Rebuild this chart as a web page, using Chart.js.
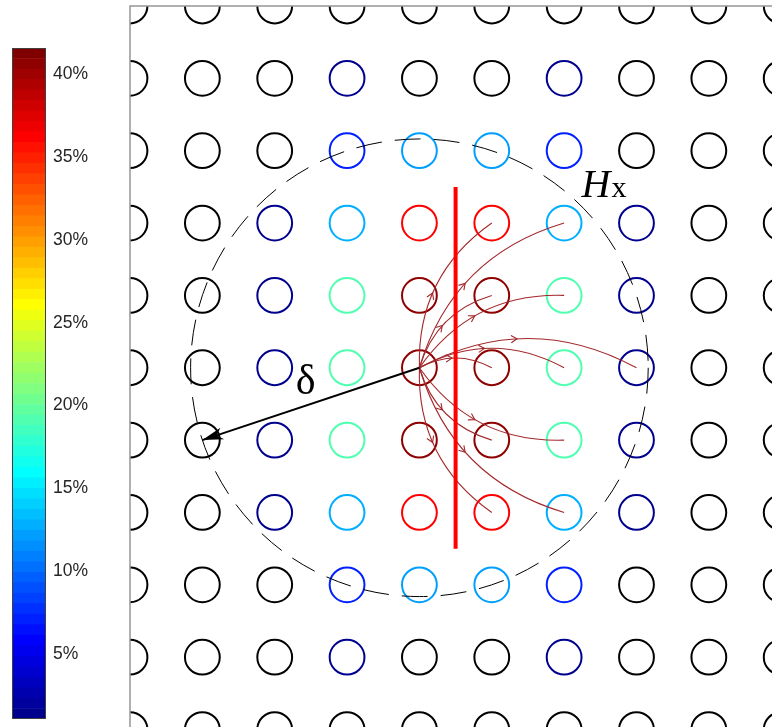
<!DOCTYPE html>
<html>
<head>
<meta charset="utf-8">
<script src="https://cdn.jsdelivr.net/npm/chart.js@4/dist/chart.umd.min.js"></script>
<style>
  html, body { margin: 0; padding: 0; background: #fff; overflow: hidden; }
  #wrap { position: relative; width: 772px; height: 727px; }
  canvas { position: absolute; left: 0; top: 0; }
</style>
</head>
<body>
<div id="wrap">
  <canvas id="lattice" width="772" height="727"></canvas>
  <canvas id="cbar" width="130" height="727"></canvas>
</div>
<script>
// share of flow per lattice site (%), null = site outside the radius (black)
const rowOuter = [null, null, null, null, null, null, null, null, null, null];
const rowNear1 = [null, null, null, 1.5, null, null, 1.5, null, null, null];
const rowNear2 = [null, null, null, 7.2, 12.2, 12.2, 7.2, null, null, null];
const rowNear3 = [null, null, 1.5, 12.8, 36.2, 36.2, 12.8, 1.5, null, null];
const rowCore = [null, null, 1.5, 19.3, 40.6, 40.6, 19.3, 1.5, null, null];
const latticeRows = [rowOuter, rowNear1, rowNear2, rowNear3, rowCore, rowCore,
  rowCore, rowNear3, rowNear2, rowNear1, rowOuter];

// source site, flow targets, interface and delta marker (lattice units)
const sourceSite = { x: 4, y: 5 };
const flowTargets = [
  { x: 5, y: 3 }, { x: 6, y: 3 }, { x: 5, y: 4 }, { x: 6, y: 4 },
  { x: 5, y: 5 }, { x: 6, y: 5 }, { x: 7, y: 5 },
  { x: 5, y: 6 }, { x: 6, y: 6 }, { x: 5, y: 7 }, { x: 6, y: 7 }
];
const interfaceX = 4.5;
const interfaceY = [2.5, 7.5];
const deltaEnd = { x: 1, y: 6 };
const deltaLabel = { x: 2.29, y: 5.36 };
const hxLabel = { x: 6.24, y: 2.64 };

// colour bar
const cbMin = 1.06;
const cbMax = 41.6;
const cbLevels = 64;
const cbTicks = [5, 10, 15, 20, 25, 30, 35, 40];

// matlab jet(m)
function jet(m) {
  const n = Math.ceil(m / 4);
  const u = [];
  for (let i = 1; i <= n; i++) u.push(i / n);
  for (let i = 1; i < n; i++) u.push(1);
  for (let i = n; i >= 1; i--) u.push(i / n);
  const g0 = Math.ceil(n / 2) - (m % 4 === 1 ? 1 : 0);
  const J = Array.from({ length: m }, () => [0, 0, 0]);
  u.forEach((v, i) => {
    const g = g0 + i + 1, r = g + n, b = g - n;
    if (r >= 1 && r <= m) J[r - 1][0] = v;
    if (g >= 1 && g <= m) J[g - 1][1] = v;
    if (b >= 1 && b <= m) J[b - 1][2] = v;
  });
  return J.map(c => `rgb(${Math.round(c[0] * 255)},${Math.round(c[1] * 255)},${Math.round(c[2] * 255)})`);
}
const jetMap = jet(cbLevels);

function colorFor(v) {
  if (v === null) return '#000000';
  let k = Math.floor((v - cbMin) / (cbMax - cbMin) * cbLevels);
  k = Math.max(0, Math.min(cbLevels - 1, k));
  return jetMap[k];
}

const sitePoints = [];
const siteColors = [];
latticeRows.forEach((row, j) => {
  row.forEach((v, i) => {
    sitePoints.push({ x: i, y: j });
    siteColors.push(colorFor(v));
  });
});

const flowPlugin = {
  id: 'flows',
  afterDatasetDraw(chart, args) {
    if (args.index !== 0) return;
    const { ctx, scales: { x, y } } = chart;
    const sx = x.getPixelForValue(sourceSite.x), sy = y.getPixelForValue(sourceSite.y);
    ctx.save();
    ctx.strokeStyle = '#a3282b';
    ctx.lineWidth = 1.1;
    flowTargets.forEach(t => {
      const ex = x.getPixelForValue(t.x), ey = y.getPixelForValue(t.y);
      const dx = ex - sx, dy = ey - sy, L = Math.hypot(dx, dy);
      let nx = dy / L, ny = -dx / L;
      if (dy > 0) { nx = -nx; ny = -ny; }
      const k = 0.27 * L;
      const cx = (sx + ex) / 2 + nx * k, cy = (sy + ey) / 2 + ny * k;
      ctx.beginPath();
      ctx.moveTo(sx, sy);
      ctx.quadraticCurveTo(cx, cy, ex, ey);
      ctx.stroke();
      const s = 0.45;
      const px = (1 - s) * (1 - s) * sx + 2 * (1 - s) * s * cx + s * s * ex;
      const py = (1 - s) * (1 - s) * sy + 2 * (1 - s) * s * cy + s * s * ey;
      const tx = 2 * (1 - s) * (cx - sx) + 2 * s * (ex - cx);
      const ty = 2 * (1 - s) * (cy - sy) + 2 * s * (ey - cy);
      const a = Math.atan2(ty, tx);
      ctx.beginPath();
      ctx.moveTo(px + 7 * Math.cos(a + 2.6), py + 7 * Math.sin(a + 2.6));
      ctx.lineTo(px, py);
      ctx.lineTo(px + 7 * Math.cos(a - 2.6), py + 7 * Math.sin(a - 2.6));
      ctx.stroke();
    });
    // dashed radius circle
    const r = Math.hypot(x.getPixelForValue(deltaEnd.x) - sx, y.getPixelForValue(deltaEnd.y) - sy);
    ctx.strokeStyle = '#000';
    ctx.lineWidth = 1;
    ctx.setLineDash([26, 13]);
    ctx.beginPath();
    ctx.arc(sx, sy, r, 0, Math.PI * 2);
    ctx.stroke();
    ctx.restore();
  },
  afterDatasetsDraw(chart) {
    const { ctx, chartArea, scales: { x, y } } = chart;
    ctx.save();
    // delta arrow head
    const sx = x.getPixelForValue(sourceSite.x), sy = y.getPixelForValue(sourceSite.y);
    const ex = x.getPixelForValue(deltaEnd.x), ey = y.getPixelForValue(deltaEnd.y);
    const a = Math.atan2(ey - sy, ex - sx);
    const c = Math.cos(a), s = Math.sin(a);
    ctx.fillStyle = '#000';
    ctx.beginPath();
    ctx.moveTo(ex, ey);
    ctx.lineTo(ex - 21 * c + 6 * s, ey - 21 * s - 6 * c);
    ctx.lineTo(ex - 15 * c, ey - 15 * s);
    ctx.lineTo(ex - 21 * c - 6 * s, ey - 21 * s + 6 * c);
    ctx.closePath();
    ctx.fill();
    // labels
    ctx.fillStyle = '#000';
    ctx.textBaseline = 'alphabetic';
    ctx.font = '42px "Liberation Serif"';
    ctx.fillText('δ', x.getPixelForValue(deltaLabel.x), y.getPixelForValue(deltaLabel.y));
    const hx = x.getPixelForValue(hxLabel.x), hy = y.getPixelForValue(hxLabel.y);
    ctx.font = 'italic 40px "Liberation Serif"';
    ctx.fillText('H', hx, hy);
    const w = ctx.measureText('H').width;
    ctx.font = '30px "Liberation Serif"';
    ctx.fillText('x', hx + w + 1, hy);
    // axes box (left and top visible)
    ctx.strokeStyle = '#969696';
    ctx.lineWidth = 1.5;
    ctx.beginPath();
    ctx.moveTo(chartArea.left, chartArea.bottom);
    ctx.lineTo(chartArea.left, chartArea.top);
    ctx.lineTo(chartArea.right, chartArea.top);
    ctx.stroke();
    ctx.restore();
  }
};

new Chart(document.getElementById('lattice'), {
  type: 'scatter',
  data: {
    datasets: [
      {
        data: sitePoints,
        pointRadius: 17.4,
        pointHoverRadius: 17.4,
        pointBorderWidth: 2,
        pointBorderColor: siteColors,
        pointBackgroundColor: 'rgba(0,0,0,0)',
        showLine: false,
        clip: 0,
        order: 3
      },
      {
        type: 'line',
        data: [{ x: interfaceX, y: interfaceY[0] }, { x: interfaceX, y: interfaceY[1] }],
        borderColor: '#ff0000',
        borderWidth: 4,
        pointRadius: 0,
        order: 1
      },
      {
        type: 'line',
        data: [sourceSite, deltaEnd],
        borderColor: '#000000',
        borderWidth: 2,
        pointRadius: 0,
        order: 2
      }
    ]
  },
  options: {
    responsive: false,
    animation: false,
    devicePixelRatio: 1,
    events: [],
    layout: { autoPadding: false, padding: { left: 130, top: 6, right: 0, bottom: 0 } },
    scales: {
      x: { type: 'linear', min: 0, max: 8.873, display: false },
      y: { type: 'linear', min: 0, max: 9.965, reverse: true, display: false }
    },
    plugins: { legend: { display: false }, tooltip: { enabled: false } }
  },
  plugins: [flowPlugin]
});

// colour bar
const cbBox = {
  id: 'cbBox',
  afterDraw(chart) {
    const { ctx, chartArea } = chart;
    ctx.save();
    ctx.strokeStyle = '#404040';
    ctx.lineWidth = 1;
    ctx.strokeRect(chartArea.left + 0.5, chartArea.top + 0.5,
      chartArea.right - chartArea.left - 1, chartArea.bottom - chartArea.top - 1);
    ctx.restore();
  }
};

new Chart(document.getElementById('cbar'), {
  type: 'bar',
  data: {
    labels: ['c'],
    datasets: jetMap.map((col, k) => ({
      data: [[cbMin + k * (cbMax - cbMin) / cbLevels, cbMin + (k + 1) * (cbMax - cbMin) / cbLevels]],
      backgroundColor: col,
      borderWidth: 0,
      grouped: false,
      barPercentage: 1,
      categoryPercentage: 1
    }))
  },
  options: {
    responsive: false,
    animation: false,
    devicePixelRatio: 1,
    events: [],
    layout: { autoPadding: false, padding: { left: 12, top: 48, right: 0, bottom: 8 } },
    scales: {
      x: { type: 'category', display: false },
      y: {
        type: 'linear',
        position: 'right',
        min: cbMin,
        max: cbMax,
        afterBuildTicks: s => { s.ticks = cbTicks.map(v => ({ value: v })); },
        afterFit: s => { s.width = 84; s.paddingTop = 0; s.paddingBottom = 0; },
        border: { display: false },
        grid: { drawOnChartArea: false, drawTicks: true, tickLength: -6, color: '#262626', lineWidth: 1 },
        ticks: {
          padding: 13,
          color: '#262626',
          font: { family: 'Liberation Sans', size: 17.5 },
          callback: v => v + '%'
        }
      }
    },
    plugins: { legend: { display: false }, tooltip: { enabled: false } }
  },
  plugins: [cbBox]
});
</script>
</body>
</html>
